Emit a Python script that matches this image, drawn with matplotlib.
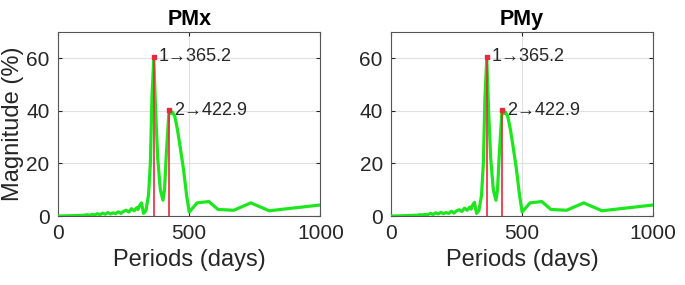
import matplotlib.pyplot as plt

plt.rcParams['font.family'] = ['Liberation Sans', 'DejaVu Sans']

# spectrum (periods in days, magnitude in %)
periods = [2, 20, 40, 60, 80, 100, 110, 120, 130, 140, 150, 160, 170, 180,
           190, 200, 210, 220, 230, 240, 250, 260, 270, 280, 290, 300, 305,
           310, 318, 326, 335, 345, 352, 358, 365, 372, 380, 390, 400, 406,
           412, 418, 423, 430, 436, 445, 455, 466, 478, 490, 500, 530, 575,
           610, 670, 735, 805, 1000]
mag_x = [0, 0.05, 0.1, 0.15, 0.2, 0.3, 0.5, 0.3, 0.6, 0.4, 0.9, 0.5, 1.1,
         0.7, 1.3, 0.8, 1.2, 0.9, 1.6, 1.0, 1.8, 2.2, 1.5, 2.8, 2.0, 3.2,
         2.5, 3.8, 5.0, 1.0, 2.0, 8.0, 20.0, 45.0, 60.0, 40.0, 22.0, 10.0,
         6.0, 10.0, 22.0, 32.0, 40.0, 39.0, 39.5, 38.0, 33.0, 26.0, 18.0,
         8.0, 1.5, 5.0, 5.5, 2.5, 2.2, 5.0, 2.0, 4.2]
mag_y = [0, 0.05, 0.1, 0.15, 0.25, 0.3, 0.5, 0.4, 0.6, 0.5, 1.0, 0.6, 1.2,
         0.8, 1.4, 0.9, 1.3, 1.0, 1.8, 1.1, 2.0, 2.4, 1.7, 3.0, 2.2, 3.4,
         2.6, 4.0, 5.2, 1.0, 2.0, 8.0, 20.0, 45.0, 60.0, 40.0, 22.0, 10.0,
         6.0, 10.0, 22.0, 32.0, 40.0, 39.0, 39.5, 38.0, 33.0, 26.0, 18.0,
         8.0, 1.5, 5.0, 5.5, 2.5, 2.2, 5.0, 2.0, 4.2]

peak_periods = [365.2, 422.9]
peak_values = [60.5, 40.3]
peak_labels = ['1\u2192365.2', '2\u2192422.9']

titles = ['PMx', 'PMy']
series = [mag_x, mag_y]

fig = plt.figure(figsize=(6.85, 2.85), dpi=100)
axes = [fig.add_axes([0.0847, 0.242, 0.383, 0.646]),
        fig.add_axes([0.571, 0.242, 0.3825, 0.646])]

for i, ax in enumerate(axes):
    ax.plot(periods, series[i], color='#1ee61e', lw=2.3, zorder=3)
    for p, v, lab in zip(peak_periods, peak_values, peak_labels):
        ax.plot([p, p], [0, v], color='#e8283c', lw=1.2, zorder=4)
        ax.plot(p, v, 's', color='#e8283c', ms=3.5, zorder=5)
        ax.text(p + 20, v, lab, fontsize=13, color='#262626',
                va='center', ha='left', zorder=6)
    ax.set_xlim(0, 1000)
    ax.set_ylim(0, 70)
    ax.set_xticks([0, 500, 1000])
    ax.set_yticks([0, 20, 40, 60])
    ax.grid(True, color='#e0e0e0', lw=0.8)
    ax.set_axisbelow(True)
    ax.tick_params(direction='in', length=3, labelsize=15, colors='#262626',
                   top=True, right=True, pad=6)
    for s in ax.spines.values():
        s.set_color('#555555')
        s.set_linewidth(0.8)
    ax.set_title(titles[i], fontsize=15.5, fontweight='bold', pad=5)
    ax.set_xlabel('Periods (days)', fontsize=17, color='#262626', labelpad=4)

axes[0].set_ylabel('Magnitude (%)', fontsize=17, color='#262626', labelpad=2)

fig.savefig('out.png', dpi=100)
